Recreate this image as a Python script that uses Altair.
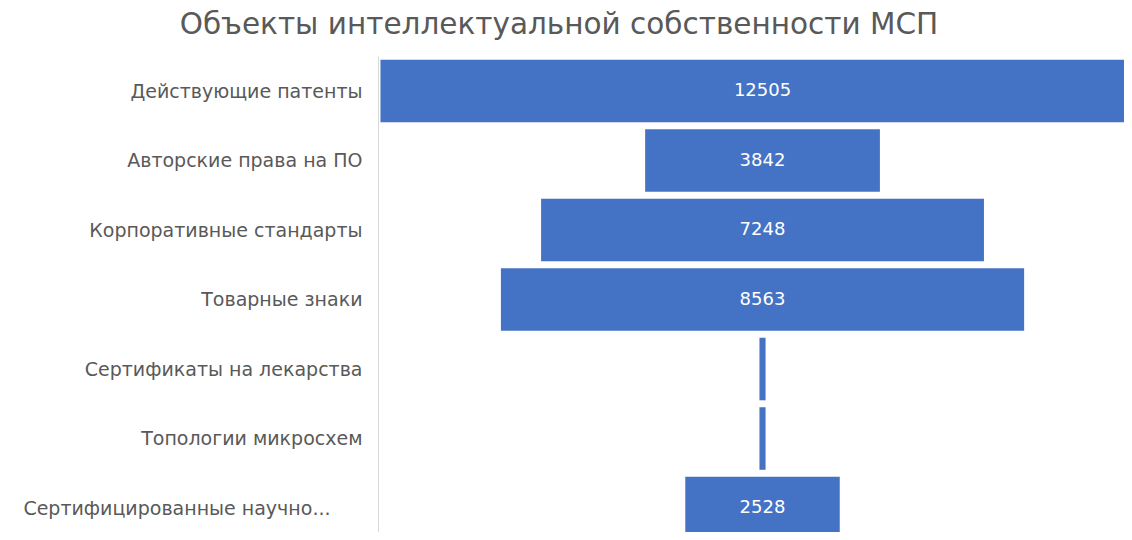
import json
import altair as alt
import pandas as pd

categories = [
    "Действующие патенты",
    "Авторские права на ПО",
    "Корпоративные стандарты",
    "Товарные знаки",
    "Сертификаты на лекарства",
    "Топологии микросхем",
    "Сертифицированные научно...",
]
values = [12505, 3842, 7248, 8563, 100, 100, 2528]

df = pd.DataFrame({"cat": categories, "value": values, "idx": list(range(len(categories)))})

FONT = "DejaVu Sans"
GRAY = "#595959"
BLUE = "#4472C4"

label_expr = json.dumps(categories, ensure_ascii=False) + "[datum.value]"

xscale = alt.Scale(domain=[-6293, 5916], nice=False, zero=False)
yscale = alt.Scale(domain=[-0.5036, 6.345], reverse=True, nice=False, zero=False)

base = alt.Chart(df).transform_calculate(
    lo="-datum.value/2", hi="datum.value/2", y0="datum.idx-0.45", y1="datum.idx+0.45", zero="0"
)

bars = base.mark_bar(color=BLUE, clip=True).encode(
    x=alt.X("lo:Q", scale=xscale, axis=None),
    x2="hi:Q",
    y=alt.Y(
        "y0:Q",
        scale=yscale,
        axis=alt.Axis(
            values=list(range(len(categories))),
            labelExpr=label_expr,
            title=None,
            ticks=False,
            grid=False,
            domain=True,
            domainColor="#d9d9d9",
            labelFont=FONT,
            labelFontSize=19,
            labelColor=GRAY,
            labelPadding={"condition": {"test": "datum.value == 6", "value": 48}, "value": 16},
            labelLimit=400,
        ),
    ),
    y2="y1:Q",
)

texts = base.transform_filter("datum.value >= 1000").mark_text(
    color="white", font=FONT, fontSize=18, baseline="middle", align="center"
).encode(
    x=alt.X("zero:Q", scale=xscale, axis=None),
    y=alt.Y("idx:Q", scale=yscale),
    text=alt.Text("value:Q", format="d"),
)

chart = (
    alt.layer(bars, texts)
    .properties(
        width=746,
        height=476,
        padding={"left": 370, "top": 48, "right": 0, "bottom": 0},
        autosize=alt.AutoSizeParams(type="none"),
        title=alt.TitleParams(
            "Объекты интеллектуальной собственности МСП",
            font=FONT,
            fontSize=29.5,
            fontWeight="normal",
            color=GRAY,
            anchor="middle",
            dx=-192,
            offset=16,
        ),
    )
    .configure_view(stroke=None)
)

chart.save("out.html", embed_options={"renderer": "svg", "actions": False})
